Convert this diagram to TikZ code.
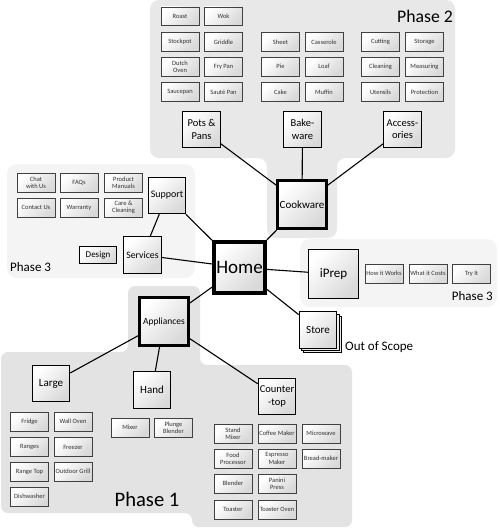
\documentclass[tikz,border=0pt]{standalone}
\usepackage{fontspec}
\setmainfont{Carlito}
\usetikzlibrary{shadows}
\begin{document}
\begin{tikzpicture}[x=1pt,y=-1pt,
  box/.style={rectangle, draw=black, top color=white, bottom color=gray!30, shading angle=45, align=center, inner sep=1pt},
  sm/.style={box, draw=gray!50!black, line width=0.7pt, minimum width=37.8pt, minimum height=18.8pt, font=\fontsize{6.5}{7.2}\selectfont, text=black!80},
  cat/.style={box, line width=1.2pt, minimum width=37.3pt, minimum height=36.3pt, font=\fontsize{10.5}{12.5}\selectfont},
  major/.style={box, line width=2.8pt, minimum width=49pt, minimum height=48.5pt, font=\fontsize{11}{13}\selectfont},
  lnk/.style={line width=1.1pt},
  bgdark/.style={fill=gray!22},
  bgmid/.style={fill=gray!18},
  bglight/.style={fill=gray!9},
  lbl/.style={inner sep=0pt}
]
\useasboundingbox (0,0) rectangle (500,528);
% backgrounds
\path[bgmid, rounded corners=9pt] (150,0) -- (455,0) -- (455,158) -- (337,158) -- (337,238) -- (267,238) -- (267,158) -- (150,158) -- cycle;
\path[bglight, rounded corners=10pt] (7,164) rectangle (195,278);
\path[bglight, rounded corners=10pt] (300,239) rectangle (497,307);
\path[bgdark, rounded corners=7pt] (1,352) -- (128,352) -- (128,286) -- (200,286) -- (200,365) -- (352,365) -- (352,527) -- (192,527) -- (192,513) -- (1,513) -- cycle;

% Phase 2 small boxes
\node[sm] (roast) at (180,16.3) {Roast};
\node[sm] (wok) at (223.5,16.3) {Wok};
\node[sm] (stockpot) at (180,42) {Stockpot};
\node[sm] (griddle) at (223.5,42) {Griddle};
\node[sm] (dutch) at (180,66.7) {Dutch\\Oven};
\node[sm] (frypan) at (223.5,66.7) {Fry Pan};
\node[sm] (saucepan) at (180,92) {Saucepan};
\node[sm] (saute) at (223.5,92) {Sauté Pan};
\node[sm] (sheet) at (280.5,42) {Sheet};
\node[sm] (casserole) at (324,42) {Casserole};
\node[sm] (pie) at (280.5,66.7) {Pie};
\node[sm] (loaf) at (324,66.7) {Loaf};
\node[sm] (cake) at (280.5,92) {Cake};
\node[sm] (muffin) at (324,92) {Muffin};
\node[sm] (cutting) at (380.5,42) {Cutting};
\node[sm] (storage) at (424.5,42) {Storage};
\node[sm] (cleaning) at (380.5,66.7) {Cleaning};
\node[sm] (measuring) at (424.5,66.7) {Measuring};
\node[sm] (utensils) at (380.5,92) {Utensils};
\node[sm] (protection) at (424.5,92) {Protection};
\node[lbl, anchor=east, font=\fontsize{17.7}{20}\selectfont] (ph2) at (453,16) {Phase 2};

% categories phase 2
\node[cat] (pots) at (201.5,129.3) {Pots \&\\Pans};
\node[cat] (bake) at (302.5,129.3) {Bake-\\ware};
\node[cat] (acc) at (402.5,129.3) {Access-\\ories};
\node[major] (cook) at (302,204.5) {Cookware};

% home
\node[box, line width=4pt, minimum width=51pt, minimum height=51pt, font=\fontsize{19}{22}\selectfont] (home) at (239.5,267.5) {Home};

% iPrep
\node[cat, minimum width=50pt, minimum height=49pt, font=\fontsize{13}{15}\selectfont] (iprep) at (333.5,274) {iPrep};
\node[sm] (how) at (384,273.5) {How it Works};
\node[sm] (cost) at (428,273.5) {What it Costs};
\node[sm] (try) at (471.5,273.5) {Try It};
\node[lbl, anchor=east, font=\fontsize{13}{15}\selectfont] (ph3b) at (493,296) {Phase 3};

% store
\node[cat, font=\fontsize{11}{13}\selectfont, double copy shadow={shadow xshift=2.2pt, shadow yshift=-2.2pt, draw=black, fill=gray!15, line width=0.6pt}] (store) at (318,330) {Store};
\node[lbl, anchor=west, font=\fontsize{13}{15}\selectfont] (oos) at (345,347) {Out of Scope};

% support / services
\node[sm] (chat) at (36,183) {Chat\\with Us};
\node[sm] (faqs) at (79,183) {FAQs};
\node[sm] (manuals) at (123.5,183) {Product\\Manuals};
\node[sm] (contact) at (36,207.5) {Contact Us};
\node[sm] (warranty) at (79,207.5) {Warranty};
\node[sm] (care) at (123.5,207.5) {Care \&\\Cleaning};
\node[cat, font=\fontsize{10}{12}\selectfont] (support) at (167,195.5) {Support};
\node[cat, font=\fontsize{9.8}{12}\selectfont] (services) at (142.5,255) {Services};
\node[box, line width=1.2pt, minimum width=37pt, minimum height=17pt, font=\fontsize{9}{11}\selectfont] (design) at (98,255) {Design};
\node[lbl, anchor=west, font=\fontsize{13}{15}\selectfont] (ph3a) at (10,267) {Phase 3};

% appliances
\node[major, font=\fontsize{9.5}{11}\selectfont] (appl) at (164,321.5) {Appliances};
\node[cat, font=\fontsize{11}{13}\selectfont] (large) at (51,383.5) {Large};
\node[cat, font=\fontsize{11}{13}\selectfont] (hand) at (152,390) {Hand};
\node[cat] (counter) at (277,396.5) {Counter\\-top};

\node[sm] (fridge) at (29.5,421.5) {Fridge};
\node[sm] (walloven) at (73,421.5) {Wall Oven};
\node[sm] (ranges) at (29.5,447) {Ranges};
\node[sm] (freezer) at (73,447) {Freezer};
\node[sm] (rangetop) at (29.5,471.5) {Range Top};
\node[sm] (grill) at (73,471.5) {Outdoor Grill};
\node[sm] (dish) at (29.5,496.5) {Dishwasher};

\node[sm] (mixer) at (130,427.5) {Mixer};
\node[sm] (plunge) at (173.5,427.5) {Plunge\\Blender};

\node[sm] (stand) at (233,433.5) {Stand\\Mixer};
\node[sm] (coffee) at (277,433.5) {Coffee Maker};
\node[sm] (micro) at (321,433.5) {Microwave};
\node[sm] (food) at (233,458.5) {Food\\Processor};
\node[sm] (espresso) at (277,458.5) {Espresso\\Maker};
\node[sm] (bread) at (321,458.5) {Bread-maker};
\node[sm] (blender) at (233,483.5) {Blender};
\node[sm] (panini) at (277,483.5) {Panini\\Press};
\node[sm] (toaster) at (233,509.5) {Toaster};
\node[sm] (toasteroven) at (277,509.5) {Toaster Oven};
\node[lbl, font=\fontsize{20.6}{23}\selectfont] (ph1) at (147,499) {Phase 1};

% connectors
\draw[lnk] (pots) -- (cook);
\draw[lnk] (bake) -- (cook);
\draw[lnk] (acc) -- (cook);
\draw[lnk] (home) -- (cook);
\draw[lnk] (home) -- (iprep);
\draw[lnk] (home) -- (store);
\draw[lnk] (support) -- (home);
\draw[lnk] (services) -- (home);
\draw[lnk] (support) -- (services);
\draw[lnk] (home) -- (appl);
\draw[lnk] (appl) -- (large);
\draw[lnk] (appl) -- (hand);
\draw[lnk] (appl) -- (counter);
\end{tikzpicture}
\end{document}
